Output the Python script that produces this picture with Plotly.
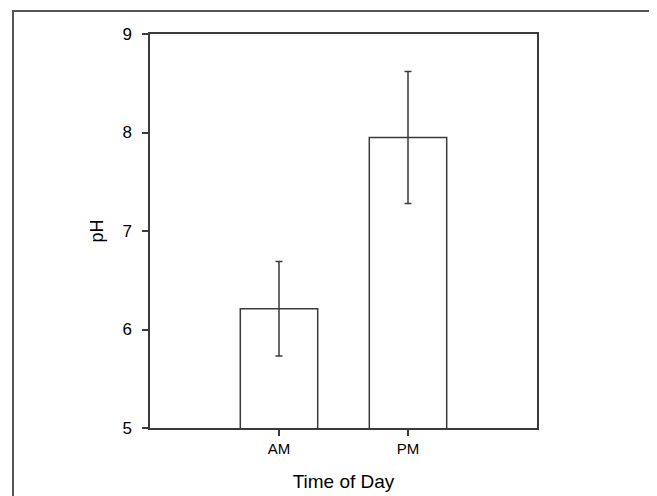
import plotly.graph_objects as go

categories = ["AM", "PM"]
ph_mean = [6.21, 7.95]
ph_err = [0.48, 0.67]
y_ticks = [5, 6, 7, 8, 9]

OFF = 8  # default page body margin
W, H = 657 - OFF, 496 - OFF
# plot area in window pixels: left 150, right 537, top 34, bottom 428
L, T = 150 - OFF, 34 - OFF
R = (657 - OFF) - (537 - OFF)
B = (496 - OFF) - (428 - OFF)
pw, ph = W - L - R, H - T - B

line_col = "#3a3a3a"
font = "Liberation Sans, Arial, sans-serif"

fig = go.Figure()
fig.add_trace(go.Bar(
    x=categories, y=ph_mean, width=0.6,
    marker=dict(color="white", line=dict(color=line_col, width=1.5)),
    error_y=dict(type="data", array=ph_err, visible=True,
                 color=line_col, thickness=1.5, width=3.5),
))

# outer frame around the whole figure (window pixel coords)
def px_x(v):
    return (v - OFF - L) / pw

def px_y(v):
    return (H - B - (v - OFF)) / ph

fig.add_shape(type="rect", xref="paper", yref="paper",
              x0=px_x(13), x1=px_x(656), y0=px_y(505), y1=px_y(11),
              line=dict(color="#555555", width=2), fillcolor="rgba(0,0,0,0)",
              layer="below")

fig.update_layout(
    width=W, height=H,
    margin=dict(l=L, r=R, t=T, b=B, autoexpand=False),
    paper_bgcolor="white", plot_bgcolor="white",
    showlegend=False,
    font=dict(family=font, color="black"),
    xaxis=dict(
        type="category", range=[-1, 2], automargin=False,
        showline=True, linecolor=line_col, linewidth=1.5, mirror=True,
        ticks="outside", ticklen=6, tickcolor=line_col, tickwidth=1.5,
        tickfont=dict(size=15), showgrid=False, zeroline=False,
        title=dict(text="Time of Day", font=dict(size=19), standoff=19),
    ),
    yaxis=dict(
        range=[5, 9], tickvals=y_ticks, automargin=False,
        showline=True, linecolor=line_col, linewidth=1.5, mirror=True,
        ticks="outside", ticklen=6, tickcolor=line_col, tickwidth=1.5,
        tickfont=dict(size=17), showgrid=False, zeroline=False,
        ticklabelstandoff=7,
        title=dict(text="pH", font=dict(size=18), standoff=14),
    ),
)

fig.write_html("out.html")
